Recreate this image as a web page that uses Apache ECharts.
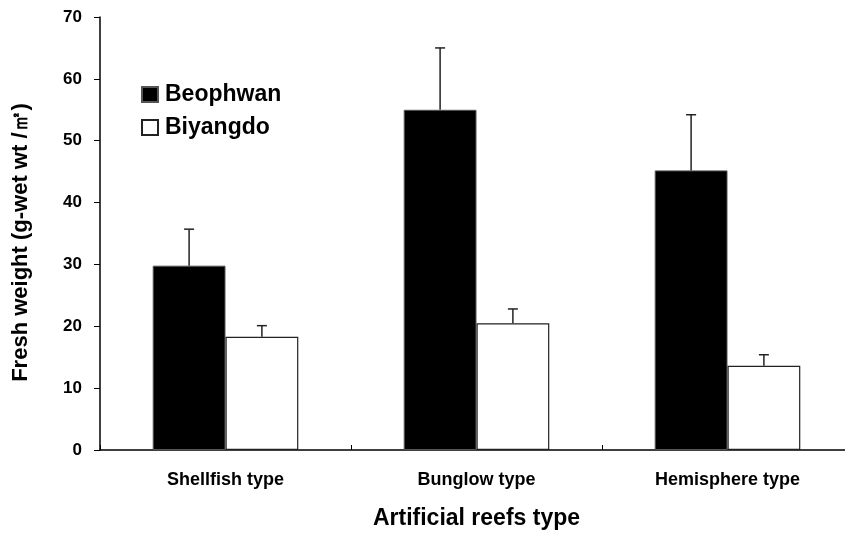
<!DOCTYPE html>
<html>
<head>
<meta charset="utf-8">
<script src="https://cdn.jsdelivr.net/npm/echarts@6/dist/echarts.min.js"></script>
<style>
  html, body { margin: 0; padding: 0; background: #fff; }
  #chart { width: 845px; height: 536px; }
</style>
</head>
<body>
<div id="chart"></div>
<script>
// reef types on the x axis
var categories = ['Shellfish type', 'Bunglow type', 'Hemisphere type']
// mean fresh weight and upper error (SD) per site
var beophwan = [29.8, 55.0, 45.2]
var beophwanErr = [5.9, 10.0, 9.0]
var biyangdo = [18.3, 20.5, 13.6]
var biyangdoErr = [1.8, 2.3, 1.8]
var yTicks = [0, 10, 20, 30, 40, 50, 60, 70]

var FONT = '"Liberation Sans", Arial, sans-serif'
var BAR_FRAC = 0.29

var chart = echarts.init(document.getElementById('chart'))

// error bars drawn on top of bars, shifted to each bar's centre
function errorSeries(name, values, errs, side) {
  return {
    name: name + ' err',
    type: 'custom',
    z: 5,
    silent: true,
    data: values.map(function (v, i) { return [i, v, v + errs[i]] }),
    renderItem: function (params, api) {
      var catW = api.size([1, 0])[0]
      var dx = side * catW * BAR_FRAC / 2
      var base = api.coord([api.value(0), api.value(1)])
      var top = api.coord([api.value(0), api.value(2)])
      var x = base[0] + dx
      var style = { stroke: '#222', lineWidth: 1.5 }
      return {
        type: 'group',
        children: [
          { type: 'line', shape: { x1: x, y1: base[1], x2: x, y2: top[1] }, style: style },
          { type: 'line', shape: { x1: x - 5, y1: top[1], x2: x + 5, y2: top[1] }, style: style }
        ]
      }
    }
  }
}

chart.setOption({
  animation: false,
  textStyle: { fontFamily: FONT },
  grid: { left: 100, top: 17, width: 753, height: 433, outerBoundsMode: 'none' },
  legend: {
    data: ['Beophwan', 'Biyangdo'],
    orient: 'vertical',
    left: 136,
    top: 78,
    itemWidth: 16,
    itemHeight: 15,
    itemGap: 10,
    icon: 'rect',
    textStyle: { fontFamily: FONT, fontWeight: 'bold', fontSize: 23, color: '#000', padding: [0, 0, 0, 2] }
  },
  xAxis: {
    type: 'category',
    data: categories,
    name: 'Artificial reefs type',
    nameLocation: 'middle',
    nameGap: 57,
    nameTextStyle: { fontFamily: FONT, fontWeight: 'bold', fontSize: 23, color: '#000' },
    axisLine: { lineStyle: { color: '#000', width: 1.5 } },
    axisTick: { show: true, inside: true, length: 5, lineStyle: { color: '#000' } },
    axisLabel: { margin: 21, fontFamily: FONT, fontWeight: 'bold', fontSize: 18, color: '#000' }
  },
  yAxis: {
    type: 'value',
    min: 0,
    max: 70,
    interval: 10,
    name: 'Fresh weight (g-wet wt /㎡)',
    nameLocation: 'middle',
    nameGap: 68,
    nameTextStyle: { fontFamily: FONT, fontWeight: 'bold', fontSize: 22, color: '#000', padding: [0, 18, 0, 0] },
    splitLine: { show: false },
    axisLine: { show: true, lineStyle: { color: '#000', width: 1.5 } },
    axisTick: { show: true, length: 6, lineStyle: { color: '#000' } },
    axisLabel: {
      margin: 18,
      fontFamily: FONT, fontWeight: 'bold', fontSize: 17, color: '#000',
      formatter: function (v) { return yTicks.indexOf(v) >= 0 ? String(v) : '' }
    }
  },
  series: [
    {
      name: 'Beophwan',
      type: 'bar',
      data: beophwan,
      barWidth: (BAR_FRAC * 100) + '%',
      barGap: '0%',
      itemStyle: { color: '#000', borderColor: '#555', borderWidth: 1 }
    },
    {
      name: 'Biyangdo',
      type: 'bar',
      data: biyangdo,
      barWidth: (BAR_FRAC * 100) + '%',
      barGap: '0%',
      itemStyle: { color: '#fff', borderColor: '#222', borderWidth: 1.2 }
    },
    errorSeries('Beophwan', beophwan, beophwanErr, -1),
    errorSeries('Biyangdo', biyangdo, biyangdoErr, 1)
  ]
})
</script>
</body>
</html>
